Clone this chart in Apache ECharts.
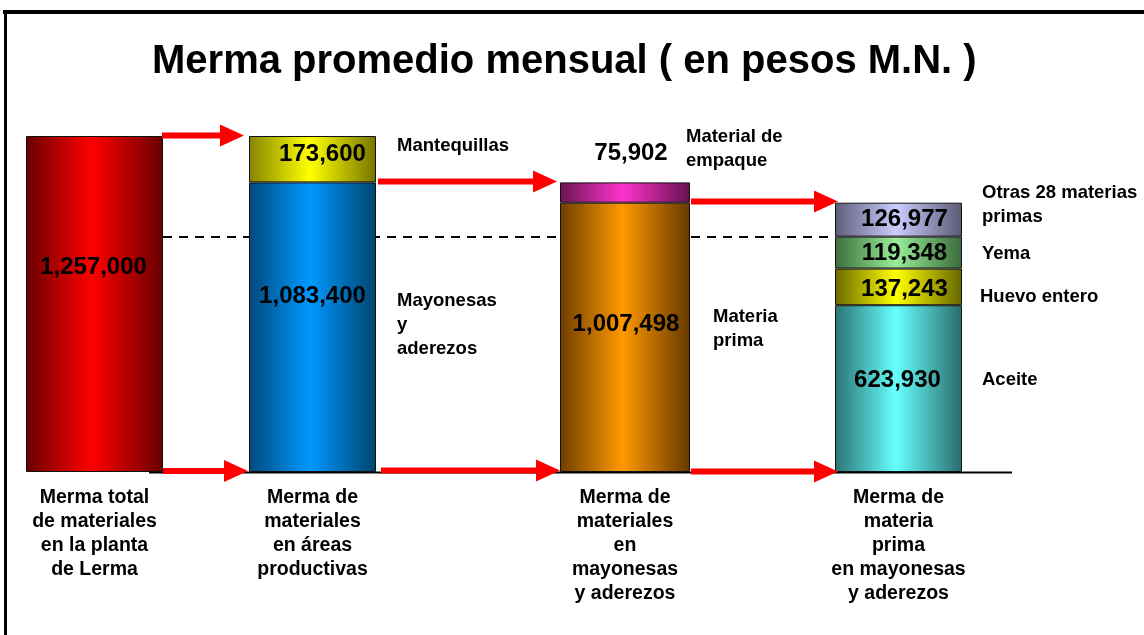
<!DOCTYPE html>
<html>
<head>
<meta charset="utf-8">
<script src="https://cdn.jsdelivr.net/npm/echarts@6/dist/echarts.min.js"></script>
<style>
  html, body { margin: 0; padding: 0; background: #fff; }
  #chart { width: 1144px; height: 635px; }
</style>
</head>
<body>
<div id="chart"></div>
<script>
// --- data ---
const stages = [
  "Merma total\nde materiales\nen la planta\nde Lerma",
  "Merma de\nmateriales\nen áreas\nproductivas",
  "Merma de\nmateriales\nen\nmayonesas\ny aderezos",
  "Merma de\nmateria\nprima\nen mayonesas\ny aderezos"
];
const plantNames = [""];
const plantValues = [1257000];
const areaNames = ["Mayonesas\ny\naderezos", "Mantequillas"];
const areaValues = [1083400, 173600];
const mayoNames = ["Materia\nprima", "Material de\nempaque"];
const mayoValues = [1007498, 75902];
const rawNames = ["Aceite", "Huevo entero", "Yema", "Otras 28 materias\nprimas"];
const rawValues = [623930, 137243, 119348, 126977];
const yMax = 1257000;

const FONT = "'Liberation Sans', Arial, sans-serif";

// --- layout / styles ---
const grids = [
  { left: 26, width: 137 },
  { left: 249, width: 127 },
  { left: 560, width: 130 },
  { left: 835, width: 127 }
];
const stackNames = [plantNames, areaNames, mayoNames, rawNames];
const stackValues = [plantValues, areaValues, mayoValues, rawValues];

// gradient colours [edge-left, centre, edge-right] per segment (bottom -> top)
const segColors = [
  [["#6a0000", "#ff0000", "#680000"]],
  [["#004a7c", "#0099ff", "#00446e"], ["#858500", "#ffff00", "#767600"]],
  [["#6e3e00", "#ff9900", "#653800"], ["#6a1452", "#ff33cc", "#661250"]],
  [["#2c7474", "#66ffff", "#2a6c6c"], ["#6a6a00", "#ffff00", "#666600"],
   ["#3c6e3c", "#99ee99", "#3a6a3a"], ["#5c5c78", "#ccccff", "#5a5a74"]]
];
// value label placement per segment
const segLabel = [
  [{ position: "inside", offset: [-1, -37] }],
  [{ position: "inside", offset: [0, -31] }, { position: "inside", offset: [10, -5] }],
  [{ position: "inside", offset: [1, -13] }, { position: "top", offset: [6, -12] }],
  [{ position: "inside", offset: [-1, -8] }, { position: "inside", offset: [6, 2] },
   { position: "inside", offset: [6, 1] }, { position: "inside", offset: [6, 0] }]
];
// name text spots [x, centre of first line]
const nameSpots = [
  [],
  [[397, 301], [397, 146]],
  [[713, 317], [686, 137]],
  [[982, 380], [980, 297], [982, 254], [982, 193]]
];
const arrows = [
  [162, 244, 135.5], [163, 248, 471],
  [378, 557, 181.5], [381, 560, 470.5],
  [691, 838, 201.5], [691, 838, 471.5]
];

function grad(c) {
  return new echarts.graphic.LinearGradient(0, 0, 1, 0, [
    { offset: 0, color: c[0] },
    { offset: 0.48, color: c[1] },
    { offset: 1, color: c[2] }
  ]);
}
const fmt = v => v.toLocaleString("en-US");

const chart = echarts.init(document.getElementById("chart"));

const gridOpt = [], xAxes = [], yAxes = [], series = [];
grids.forEach((g, i) => {
  gridOpt.push({ left: g.left, width: g.width, top: 136, bottom: 163 });
  xAxes.push({
    type: "category", gridIndex: i, data: [stages[i]],
    axisLine: { show: false }, axisTick: { show: false },
    axisLabel: {
      interval: 0, margin: 14, color: "#000", fontFamily: FONT,
      fontWeight: "bold", fontSize: 19.5, lineHeight: 24, align: "center"
    }
  });
  yAxes.push({
    type: "value", gridIndex: i, min: 0, max: yMax, show: false,
    splitLine: { show: false }
  });
  stackValues[i].forEach((v, j) => {
    series.push({
      type: "bar", xAxisIndex: i, yAxisIndex: i, stack: "s" + i,
      name: stackNames[i][j], data: [v], barWidth: "100%",
      itemStyle: { color: grad(segColors[i][j]), borderColor: "#111", borderWidth: 1 },
      label: {
        show: true, position: segLabel[i][j].position, offset: segLabel[i][j].offset,
        distance: 5, formatter: p => fmt(p.value), color: "#000",
        fontFamily: FONT, fontWeight: "bold", fontSize: 24
      },
      emphasis: { disabled: true }
    });
  });
});

const graphics = [
  { type: "rect", shape: { x: 3, y: 10, width: 1141, height: 4 }, style: { fill: "#000" } },
  { type: "rect", shape: { x: 4, y: 10, width: 3, height: 625 }, style: { fill: "#000" } },
  { type: "line", z: -1, shape: { x1: 163, y1: 237, x2: 835, y2: 237 },
    style: { stroke: "#000", lineWidth: 2, lineDash: [9, 7] } },
  { type: "line", shape: { x1: 149, y1: 472.5, x2: 1012, y2: 472.5 },
    style: { stroke: "#000", lineWidth: 2 } }
];
arrows.forEach(([x1, x2, y]) => {
  const hx = x2 - 24;
  graphics.push({
    type: "polygon", z: 10,
    shape: { points: [[x1, y - 3], [hx, y - 3], [hx, y - 11], [x2, y], [hx, y + 11], [hx, y + 3], [x1, y + 3]] },
    style: { fill: "#ff0000" }
  });
});
nameSpots.forEach((spots, i) => {
  spots.forEach(([x, y], j) => {
    graphics.push({
      type: "text", x: x, y: y - 12, z: 10,
      style: {
        text: stackNames[i][j], fill: "#000", fontFamily: FONT, fontWeight: "bold",
        fontSize: 18.5, lineHeight: 24, align: "left", verticalAlign: "top"
      }
    });
  });
});

chart.setOption({
  backgroundColor: "#fff",
  animation: false,
  title: {
    text: "Merma promedio mensual ( en pesos M.N. )",
    left: 147, top: 37,
    textStyle: { fontFamily: FONT, fontWeight: "bold", fontSize: 40, color: "#000" }
  },
  grid: gridOpt,
  xAxis: xAxes,
  yAxis: yAxes,
  series: series,
  graphic: graphics
});
</script>
</body>
</html>
